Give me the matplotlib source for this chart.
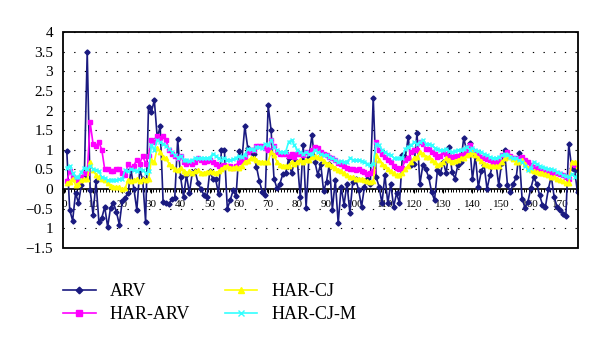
import numpy as np
import matplotlib
matplotlib.use("Agg")
import matplotlib.pyplot as plt
from matplotlib.patches import Rectangle

plt.rcParams['font.family'] = ['Liberation Serif', 'DejaVu Serif']

# daily realized volatility and the three model forecasts
arv = [0.97, -0.53, -0.8, -0.1, -0.35, 0.1, 0.3, 3.5, -0.03, -0.65,
       0.2, -0.83, -0.73, -0.45, -0.96, -0.47, -0.35, -0.58, -0.9, -0.3,
       -0.22, -0.11, 0.5, 0.0, -0.53, 0.48, 0.25, -0.83, 2.1, 1.97,
       2.26, 1.3, 1.6, -0.32, -0.35, -0.38, -0.25, -0.22, 1.27, 0.3,
       -0.2, 0.36, -0.1, 0.42, 0.45, 0.15, 0.0, -0.15, -0.2, 0.45,
       0.27, 0.25, -0.12, 1.0, 1.0, -0.5, -0.28, -0.03, -0.18, 0.97,
       0.74, 1.6, 1.05, 0.95, 0.9, 0.57, 0.2, -0.07, -0.15, 2.13,
       1.5, 0.27, 0.02, 0.13, 0.38, 0.4, 0.78, 0.4, 0.7, 0.7,
       -0.2, 1.12, -0.47, 0.82, 1.37, 0.7, 0.36, 0.65, -0.05, 0.19,
       0.65, -0.52, 0.23, -0.87, 0.06, -0.4, 0.14, -0.6, 0.19, 0.25,
       -0.02, -0.45, 0.06, 0.25, 0.14, 2.33, 0.31, 0.06, -0.36, 0.36,
       -0.36, 0.14, -0.45, -0.1, -0.36, 0.86, 0.82, 1.33, 0.61, 0.65,
       1.42, 0.13, 0.61, 0.5, 0.31, -0.07, -0.28, 0.48, 0.4, 0.7,
       0.4, 1.08, 0.44, 0.27, 0.61, 0.7, 1.29, 0.99, 1.18, 0.25,
       0.85, 0.05, 0.45, 0.61, 0.0, 0.36, 0.64, 0.7, 0.1, 0.67,
       1.0, 0.1, -0.07, 0.14, 0.3, 0.92, -0.24, -0.47, -0.32, 0.02,
       0.3, 0.14, -0.15, -0.4, -0.45, 0.0, 0.33, -0.2, -0.45, -0.53,
       -0.62, -0.69, 1.14, 0.55, 0.48, -0.08]

har_arv = [0.2, 0.45, 0.3, 0.25, 0.2, 0.3, 0.4, 0.4, 1.7, 1.15,
           1.1, 1.2, 1.0, 0.5, 0.5, 0.45, 0.45, 0.5, 0.5, 0.4,
           0.35, 0.65, 0.55, 0.6, 0.75, 0.65, 0.85, 0.65, 0.85, 1.25,
           1.2, 1.35, 1.3, 1.35, 1.25, 1.0, 0.9, 0.85, 0.8, 0.85,
           0.7, 0.65, 0.7, 0.65, 0.7, 0.8, 0.74, 0.7, 0.72, 0.74,
           0.7, 0.65, 0.6, 0.6, 0.62, 0.6, 0.58, 0.55, 0.6, 0.7,
           0.75, 0.82, 0.95, 1.0, 1.0, 1.1, 1.1, 1.1, 1.05, 1.0,
           1.25, 1.1, 0.95, 0.9, 0.9, 0.9, 0.85, 0.9, 0.82, 0.9,
           0.9, 0.88, 0.95, 0.92, 1.0, 1.08, 1.05, 0.95, 0.9, 0.88,
           0.82, 0.8, 0.74, 0.66, 0.65, 0.6, 0.55, 0.5, 0.5, 0.48,
           0.52, 0.45, 0.44, 0.38, 0.4, 0.45, 1.2, 1.0, 0.9, 0.82,
           0.75, 0.7, 0.6, 0.55, 0.52, 0.55, 0.74, 0.78, 0.95, 1.0,
           1.0, 1.2, 1.15, 1.03, 1.03, 0.95, 0.9, 0.82, 0.85, 0.95,
           0.9, 0.85, 0.82, 0.85, 0.85, 0.88, 0.9, 1.0, 1.12, 1.0,
           0.95, 0.9, 0.82, 0.78, 0.76, 0.74, 0.7, 0.7, 0.72, 0.86,
           0.82, 0.95, 0.85, 0.8, 0.78, 0.8, 0.82, 0.75, 0.7, 0.62,
           0.57, 0.55, 0.52, 0.48, 0.46, 0.44, 0.44, 0.42, 0.4, 0.38,
           0.36, 0.3, 0.27, 0.65, 0.62, 0.6]

har_cj = [0.15, 0.19, 0.27, 0.1, 0.13, 0.23, 0.25, 0.25, 0.7, 0.48,
          0.36, 0.3, 0.27, 0.23, 0.15, 0.08, 0.06, 0.06, 0.05, 0.0,
          0.02, 0.23, 0.2, 0.23, 0.25, 0.2, 0.25, 0.22, 0.25, 0.74,
          0.7, 1.05, 0.95, 0.82, 0.78, 0.65, 0.6, 0.5, 0.48, 0.55,
          0.45, 0.4, 0.45, 0.42, 0.45, 0.48, 0.4, 0.42, 0.44, 0.45,
          0.44, 0.42, 0.45, 0.52, 0.57, 0.6, 0.55, 0.55, 0.57, 0.55,
          0.6, 0.7, 0.72, 0.78, 0.78, 0.74, 0.7, 0.7, 0.68, 0.7,
          0.95, 0.86, 0.7, 0.62, 0.6, 0.6, 0.6, 0.7, 0.65, 0.7,
          0.74, 0.7, 0.74, 0.75, 0.82, 0.85, 0.82, 0.8, 0.72, 0.65,
          0.65, 0.6, 0.55, 0.48, 0.45, 0.4, 0.36, 0.3, 0.3, 0.27,
          0.27, 0.25, 0.23, 0.2, 0.19, 0.2, 0.86, 0.74, 0.65, 0.6,
          0.5, 0.45, 0.4, 0.36, 0.36, 0.4, 0.52, 0.6, 0.7, 0.8,
          0.82, 0.95, 0.9, 0.82, 0.82, 0.75, 0.7, 0.61, 0.65, 0.7,
          0.78, 0.75, 0.7, 0.72, 0.74, 0.78, 0.8, 0.86, 0.9, 0.95,
          0.88, 0.78, 0.72, 0.65, 0.62, 0.6, 0.6, 0.58, 0.6, 0.7,
          0.78, 0.86, 0.82, 0.76, 0.7, 0.7, 0.74, 0.65, 0.55, 0.48,
          0.46, 0.44, 0.42, 0.4, 0.38, 0.36, 0.31, 0.3, 0.27, 0.23,
          0.2, 0.16, 0.15, 0.7, 0.68, 0.6]

har_cj_m = [0.55, 0.6, 0.4, 0.3, 0.32, 0.44, 0.55, 0.52, 0.6, 0.5,
            0.48, 0.45, 0.3, 0.28, 0.23, 0.22, 0.22, 0.24, 0.25, 0.27,
            0.48, 0.45, 0.52, 0.48, 0.45, 0.52, 0.48, 0.4, 0.45, 1.12,
            1.0, 1.25, 1.2, 1.16, 1.1, 1.03, 0.95, 0.86, 0.8, 0.85,
            0.74, 0.74, 0.72, 0.75, 0.78, 0.78, 0.8, 0.78, 0.78, 0.8,
            0.9, 0.85, 0.78, 0.75, 0.8, 0.75, 0.74, 0.76, 0.8, 0.85,
            0.82, 0.88, 1.03, 1.03, 1.0, 1.08, 1.08, 1.05, 1.16, 1.12,
            1.25, 1.08, 1.0, 0.95, 0.95, 0.95, 1.2, 1.25, 1.12, 1.0,
            0.95, 0.9, 0.95, 0.9, 0.9, 1.0, 0.95, 0.9, 0.86, 0.86,
            0.82, 0.78, 0.75, 0.7, 0.72, 0.7, 0.7, 0.78, 0.75, 0.74,
            0.74, 0.72, 0.7, 0.65, 0.61, 0.65, 1.16, 1.12, 1.0, 0.95,
            0.9, 0.86, 0.8, 0.78, 0.78, 0.8, 1.03, 1.08, 1.12, 1.2,
            1.15, 1.2, 1.26, 1.16, 1.14, 1.12, 1.05, 1.03, 1.0, 1.0,
            1.03, 0.98, 0.95, 0.98, 1.0, 1.0, 1.03, 1.08, 1.0, 1.05,
            1.0, 0.98, 0.95, 0.9, 0.86, 0.82, 0.8, 0.78, 0.82, 0.86,
            0.9, 0.88, 0.82, 0.8, 0.78, 0.74, 0.7, 0.6, 0.48, 0.55,
            0.7, 0.64, 0.6, 0.57, 0.55, 0.52, 0.5, 0.48, 0.44, 0.4,
            0.36, 0.33, 0.3, 0.38, 0.31, 0.35]

days = np.arange(1, len(arv) + 1)
x_labels = list(range(0, 171, 10))
y_ticks = [-1.5, -1, -0.5, 0, 0.5, 1, 1.5, 2, 2.5, 3, 3.5, 4]
y_labels = ['\u22121.5', '1', '\u22120.5', '0', '0.5', '1', '1.5', '2',
            '2.5', '3', '3.5', '4']

fig = plt.figure(figsize=(6, 3.47), dpi=100)
ax = fig.add_axes([0.105, 0.285, 0.858, 0.623])

ax.plot(days, arv, color='#1a1a80', lw=1.2, marker='D', ms=2.6,
        label='ARV', zorder=3)
ax.plot(days, har_arv, color='#ff00ff', lw=1.2, marker='s', ms=2.8,
        label='HAR-ARV', zorder=4)
ax.plot(days, har_cj, color='#ffff00', lw=1.2, marker='^', ms=3.2,
        label='HAR-CJ', zorder=5)
ax.plot(days, har_cj_m, color='#33ffff', lw=1.2, marker='x', ms=3.2,
        mew=1.0, label='HAR-CJ-M', zorder=6)

ax.set_xlim(-0.3, 176.1)
ax.set_ylim(-1.5, 4)

# category axis runs along y = 0, box drawn separately
for s in ['top', 'right', 'left']:
    ax.spines[s].set_visible(False)
ax.spines['bottom'].set_position(('data', 0))
ax.spines['bottom'].set_linewidth(1.2)
ax.spines['bottom'].set_zorder(2)
ax.add_patch(Rectangle((0, 0), 1, 1, transform=ax.transAxes, fill=False,
                       lw=1.3, edgecolor='black', clip_on=False, zorder=7))

ax.set_xticks(x_labels)
ax.set_xticklabels([str(v) for v in x_labels])
ax.set_xticks(np.arange(0.5, 176, 1), minor=True)
ax.tick_params(axis='x', which='major', direction='out', length=3,
               width=0.8, pad=5, labelsize=8)
ax.tick_params(axis='x', which='minor', direction='out', length=2.5,
               width=0.7)

ax.set_yticks(y_ticks)
ax.set_yticklabels(y_labels)
ax.tick_params(axis='y', length=0, pad=7, labelsize=11)
ax.yaxis.grid(True, linestyle=(0, (1.2, 8.4)), color='black', lw=0.8)
ax.set_axisbelow(True)

fig.legend(loc='upper left', bbox_to_anchor=(0.105, 0.183), ncol=2,
           frameon=False, fontsize=13, handlelength=1.8,
           handletextpad=0.8, columnspacing=1.9, labelspacing=0.32,
           borderpad=0, borderaxespad=0, markerscale=1.3)

fig.savefig('out.png', dpi=100)
